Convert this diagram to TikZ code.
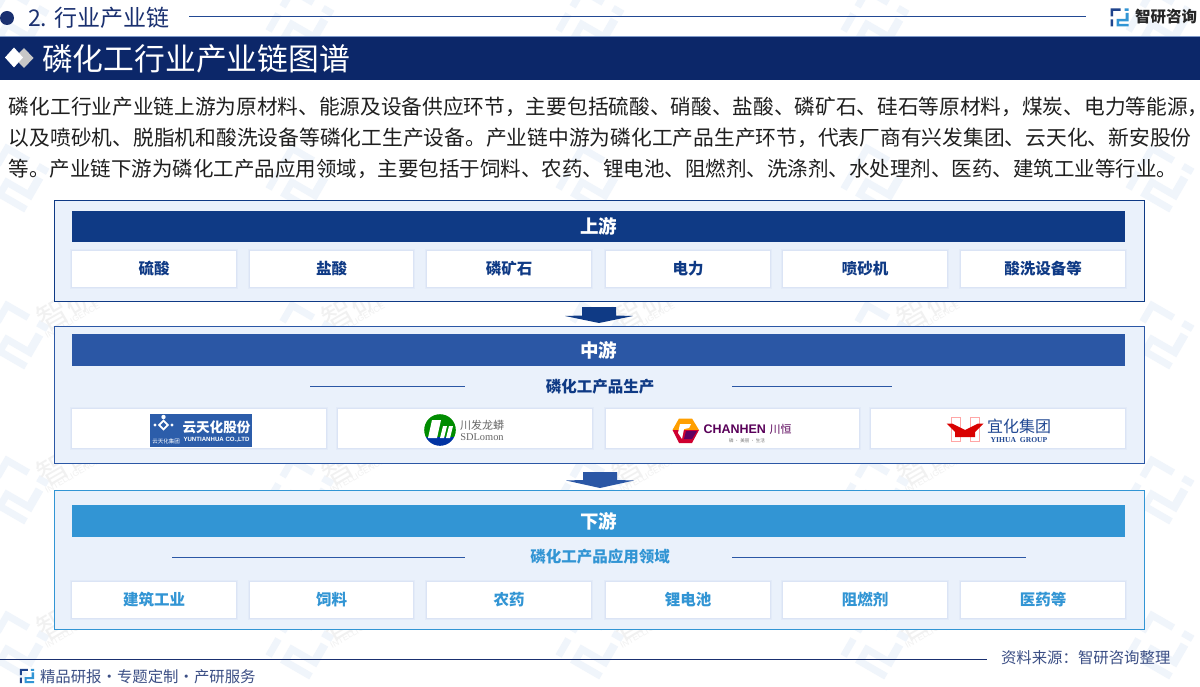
\documentclass[tikz,border=0pt]{standalone}
\usepackage{fontspec}
\setmainfont{Noto Sans CJK SC}
\newfontfamily\latinf{Liberation Sans}
\newfontfamily\serf{Liberation Serif}
\usetikzlibrary{calc}
\definecolor{navy}{HTML}{0C2769}
\definecolor{upc}{HTML}{0F3A85}
\definecolor{midc}{HTML}{2B57A5}
\definecolor{lowc}{HTML}{3295D4}
\definecolor{boxfill}{HTML}{EAF1FB}
\definecolor{wmlogo}{HTML}{F0F5FB}
\definecolor{wmtext}{HTML}{F1F1F1}
\definecolor{headc}{HTML}{1A3070}
\definecolor{shadein}{HTML}{DBE4F5}
\definecolor{shadeout}{HTML}{E3EBF8}
\newcommand\szf[1]{\fontsize{#1}{#1}\selectfont}
\tikzset{
  x=1pt,y=-1pt,
  panel/.style={rectangle,inner sep=0pt,fill=boxfill,line width=.9pt},
  band/.style={rectangle,inner sep=0pt,text=white,font=\szf{18.5}\bfseries},
  card/.style={rectangle,inner sep=0pt,fill=white,
    preaction={draw=shadeout,line width=4pt},
    preaction={draw=shadein,line width=1.6pt}},
  plain/.style={inner sep=0pt,outer sep=0pt},
}
% name, x1, x2, y1, y2, options, text
\newcommand\pxnode[7]{%
  \node[#6,minimum width={(#3-#2)*1pt},minimum height={(#5-#4)*1pt}] (#1) at ({(#2+#3)/2},{(#4+#5)/2}) {#7};}
\newcommand\cardtxt[1]{\raisebox{-.8pt}{#1}}
\newcommand\zlogo[2]{%
  \fill[#1] (-9,-9) rectangle (1,-6.5) (-9,-6.5) rectangle (-6.5,-1) (-9,2) rectangle (-6.5,9);
  \fill[#2] (5,-9) rectangle (9,-6.5) (6,-4.5) rectangle (9,4) (-3,1.5) rectangle (9,4)
            (-3,4) rectangle (-0.5,9) (-3,6.5) rectangle (9,9);}
\newcommand\wlogo[2]{%
  \begin{scope}[shift={(#1,#2)},rotate=-30,scale=2.8]\zlogo{wmlogo}{wmlogo}\end{scope}}
\newcommand\wmark[2]{%
  \node[plain,anchor=west,text=wmtext,rotate=30,font=\szf{31}] at ($(#1,#2)+(24.6,-12.25)$) {智研};
  \node[plain,anchor=west,text=wmtext,rotate=30,font=\latinf\szf{8.5}] at ($(#1,#2)+(31,1)$) {INTELLIGENCE};}
\begin{document}
\begin{tikzpicture}
\useasboundingbox (0,0) rectangle (1200,687);
\fill[white] (0,0) rectangle (1200,687);
% watermarks
\foreach \yy in {20,178,335,490,645}{\foreach \xx in {15,300,590,875,1160}{\wlogo{\xx}{\yy}}}
\foreach \yy in {335,490,645}{\foreach \xx in {15,300,590,875}{\wmark{\xx}{\yy}}}
% header
\node[plain,circle,fill=headc,minimum size=14pt] (dot) at (7,18) {};
\node[plain,anchor=west,text=headc,font=\szf{23}] (sec) at (28,17.5) {2. 行业产业链};
\coordinate (ruleL) at (189,17); \coordinate (ruleR) at (1086,17);
\draw[midc!70!navy,line width=1pt] (ruleL) -- (ruleR);
\begin{scope}[shift={(1119.5,17.5)}]\zlogo{midc!60!navy}{lowc}\end{scope}
\node[plain,anchor=west,text=black!85,font=\szf{15.5}\bfseries] (brand) at (1135,16.5) {智研咨询};
% title band
\draw[midc!60!white,line width=.8pt] (0,36.5) -- (1200,36.5);
\pxnode{titleband}{0}{1200}{37}{80}{rectangle,inner sep=0pt,fill=navy}{}
\fill[black!22] (24,48) -- (33.5,58) -- (24,68) -- (14.5,58) -- cycle;
\fill[white] (14,47.5) -- (23,57.5) -- (14,67.5) -- (5,57.5) -- cycle;
\node[plain,anchor=west,text=white,font=\szf{30.8}] (title) at (42,59) {磷化工行业产业链图谱};
% body
\node[plain,anchor=west,text=black!88,font=\szf{20.68}] (l1) at (9,107) {磷化工行业产业链上游为原材料、能源及设备供应环节，主要包括硫酸、硝酸、盐酸、磷矿石、硅石等原材料，煤炭、电力等能源\makebox[10pt][l]{，}};
\node[plain,anchor=west,text=black!88,font=\szf{20.75}] (l2) at (9,138) {以及喷砂机、脱脂机和酸洗设备等磷化工生产设备。产业链中游为磷化工产品生产环节，代表厂商有兴发集团、云天化、新安股份};
\node[plain,anchor=west,text=black!88,font=\szf{20.5}] (l3) at (9,169) {等。产业链下游为磷化工产品应用领域，主要包括于饲料、农药、锂电池、阻燃剂、洗涤剂、水处理剂、医药、建筑工业等行业。};
% panels
\pxnode{upper}{54}{1144}{200.5}{301}{panel,draw=upc}{}
\pxnode{middle}{54}{1144}{326}{463}{panel,draw=midc}{}
\pxnode{lower}{54}{1144}{490}{629}{panel,draw=lowc}{}
% bands
\pxnode{upband}{72}{1125}{211}{242}{band,fill=upc}{上游}
\pxnode{midband}{72}{1125}{334}{366}{band,fill=midc}{中游}
\pxnode{lowband}{72}{1125}{505}{537}{band,fill=lowc}{下游}
% upper cards
\def\cardfont{\szf{15.5}\bfseries}
\pxnode{u1}{72}{236}{251}{287}{card,text=upc,font=\cardfont}{\cardtxt{硫酸}}
\pxnode{u2}{250}{413}{251}{287}{card,text=upc,font=\cardfont}{\cardtxt{盐酸}}
\pxnode{u3}{427}{591}{251}{287}{card,text=upc,font=\cardfont}{\cardtxt{磷矿石}}
\pxnode{u4}{606}{770}{251}{287}{card,text=upc,font=\cardfont}{\cardtxt{电力}}
\pxnode{u5}{783}{947}{251}{287}{card,text=upc,font=\cardfont}{\cardtxt{喷砂机}}
\pxnode{u6}{961}{1125}{251}{287}{card,text=upc,font=\cardfont}{\cardtxt{酸洗设备等}}
% arrows
\fill[upc] (582,307) -- (616,307) -- (616,315.5) -- (633,316) -- (599,323) -- (565,316) -- (582,315.5) -- cycle;
\fill[midc] (583,472) -- (617,472) -- (617,480) -- (634,480.5) -- (600,488) -- (566,480.5) -- (583,480) -- cycle;
% middle
\coordinate (m1a) at (310,386.5); \coordinate (m1b) at (465,386.5);
\coordinate (m2a) at (732,386.5); \coordinate (m2b) at (892,386.5);
\draw[midc,line width=.9pt] (m1a) -- (m1b) (m2a) -- (m2b);
\node[plain,text=upc,font=\szf{15.5}\bfseries] (midsub) at (600,386.5) {磷化工产品生产};
\pxnode{m1}{72}{326}{409}{448}{card}{}
\pxnode{m2}{338}{592}{409}{448}{card}{}
\pxnode{m3}{606}{859}{409}{448}{card}{}
\pxnode{m4}{871}{1125}{409}{448}{card}{}
% logo yuntianhua
\fill[midc!90!lowc] (150,414) rectangle (252,447);
\fill[white,rotate around={45:(163.5,425)}] (159.5,421) rectangle (167.5,429);
\fill[midc!90!lowc,rotate around={45:(163.5,425)}] (161.5,423) rectangle (165.5,427);
\fill[white] (163.5,417) circle (2.2) (155,425) circle (1.7) (172,425) circle (1.7);
\node[plain,text=white,font=\szf{13.6}\bfseries] (yt1) at (216.5,427.5) {云天化股份};
\node[plain,text=white,font=\latinf\szf{6.1}\bfseries] (yt2) at (216.5,440) {YUNTIANHUA CO.,LTD};
\node[plain,text=white,font=\szf{5.5}] (yt3) at (166,441) {云天化集团};
% logo sdlomon
\begin{scope}
  \clip (440,430) circle (15.8);
  \fill[green!55!black] (424,413) rectangle (457,437);
  \fill[blue!55!black!80!cyan] (424,437) rectangle (457,447);
\end{scope}
\fill[white] (432,420) -- (441,420) -- (437,438) -- (428,438) -- cycle
             (443,426) -- (447,426) -- (444,438) -- (440,438) -- cycle
             (449,426) -- (453,426) -- (450,438) -- (446,438) -- cycle;
\node[plain,text=black!60,font=\szf{11}] (sd1) at (482,425) {川发龙蟒};
\node[plain,text=black!60,font=\serf\szf{10.4}] (sd2) at (482,437.5) {SDLomon};
% logo chanhen
\fill[orange!75!yellow] (672.5,430) -- (679,418.5) -- (692,418.5) -- (699,430) -- (686,431) -- cycle;
\fill[purple!75!red] (672.5,430) -- (699,430) -- (692,443) -- (679,443) -- cycle;
\fill[violet!75!black] (686,431) -- (697,431) -- (692,439) -- (684,439) -- cycle;
\fill[white] (680,424) -- (691,424) -- (689,428) -- (684,429) -- (682,439) -- (678,433) -- cycle;
\node[plain,anchor=west,text=violet!70!black,font=\latinf\szf{12.5}\bfseries] (ch1) at (703.5,429.5) {CHANHEN};
\node[plain,anchor=west,text=violet!70!black,font=\szf{11}] (ch2) at (769.5,429.5) {川恒};
\node[plain,text=black!55,font=\szf{4.5}] (ch3) at (747,441) {磷 · 美丽 · 生活};
% logo yihua
\draw[red!35!white,line width=.8pt] (951,417.5) rectangle (960,441) (970,417.5) rectangle (979,441);
\fill[red!85!black] (946.5,423.5) -- (952,423.5) -- (965,430) -- (978,423.5) -- (983.5,423.5) -- (975,432) -- (975,437) -- (955,437) -- (955,432) -- cycle;
\node[plain,text=midc!70!navy,font=\szf{16}] (yh1) at (1019,426) {宜化集团};
\node[plain,text=midc!70!navy,font=\serf\szf{7.6}\bfseries] (yh2) at (1019,440.5) {YIHUA\ \ GROUP};
% lower
\coordinate (l1a) at (172,557); \coordinate (l1b) at (465,557);
\coordinate (l2a) at (732,557); \coordinate (l2b) at (1026,557);
\draw[midc,line width=.9pt] (l1a) -- (l1b) (l2a) -- (l2b);
\node[plain,text=lowc,font=\szf{15.5}\bfseries] (lowsub) at (600,557) {磷化工产品应用领域};
\pxnode{d1}{72}{236}{582}{618}{card,text=lowc,font=\cardfont}{\cardtxt{建筑工业}}
\pxnode{d2}{250}{413}{582}{618}{card,text=lowc,font=\cardfont}{\cardtxt{饲料}}
\pxnode{d3}{427}{591}{582}{618}{card,text=lowc,font=\cardfont}{\cardtxt{农药}}
\pxnode{d4}{606}{770}{582}{618}{card,text=lowc,font=\cardfont}{\cardtxt{锂电池}}
\pxnode{d5}{783}{947}{582}{618}{card,text=lowc,font=\cardfont}{\cardtxt{阻燃剂}}
\pxnode{d6}{961}{1125}{582}{618}{card,text=lowc,font=\cardfont}{\cardtxt{医药等}}
% footer
\coordinate (footL) at (0,659); \coordinate (footR) at (987,659);
\draw[headc,line width=1pt] (footL) -- (footR);
\node[plain,anchor=west,text=headc!85!white,font=\szf{15.4}] (src) at (1001,658) {资料来源：智研咨询整理};
\begin{scope}[shift={(27,676)},scale=.78]\zlogo{midc!60!navy}{lowc}\end{scope}
\node[plain,anchor=west,text=headc!85!white,font=\szf{15.4}] (foot) at (40,677) {精品研报\makebox[15.4pt]{·}专题定制\makebox[15.4pt]{·}产研服务};
\end{tikzpicture}
\end{document}
